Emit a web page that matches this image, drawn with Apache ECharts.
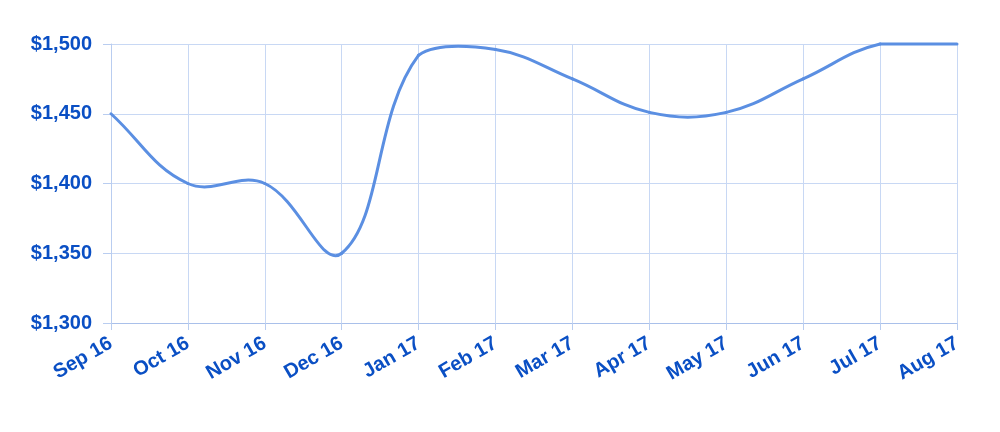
<!DOCTYPE html>
<html><head><meta charset="utf-8">
<script src="https://cdn.jsdelivr.net/npm/echarts@6/dist/echarts.min.js"></script>
<style>html,body{margin:0;padding:0;background:#fff}#c{width:1000px;height:432px}</style>
</head><body><div id="c"></div>
<script>
const categories = ['Sep 16','Oct 16','Nov 16','Dec 16','Jan 17','Feb 17','Mar 17','Apr 17','May 17','Jun 17','Jul 17','Aug 17'];
const values = [1450, 1400, 1400, 1350, 1492, 1496, 1475, 1451, 1451, 1475, 1500, 1500];
const yMin = 1300, yMax = 1500, yStep = 50;

const TENSION = 0.4;
const chart = echarts.init(document.getElementById('c'));
const labelColor = '#0a4fc4';
const gridColor = '#c8d8f4';
const fontFamily = 'Liberation Sans, Arial, sans-serif';

function controlPoints(pts, i, top, bottom) {
  const prev = pts[Math.max(0, i - 1)], cur = pts[i], next = pts[Math.min(pts.length - 1, i + 1)];
  const d01 = Math.hypot(cur[0] - prev[0], cur[1] - prev[1]);
  const d12 = Math.hypot(next[0] - cur[0], next[1] - cur[1]);
  let s01 = d01 / (d01 + d12), s12 = d12 / (d01 + d12);
  if (!isFinite(s01)) s01 = 0; if (!isFinite(s12)) s12 = 0;
  const fa = TENSION * s01, fb = TENSION * s12;
  const clampY = y => Math.min(bottom, Math.max(top, y));
  return {
    prev: [cur[0] - fa * (next[0] - prev[0]), clampY(cur[1] - fa * (next[1] - prev[1]))],
    next: [cur[0] + fb * (next[0] - prev[0]), clampY(cur[1] + fb * (next[1] - prev[1]))]
  };
}

chart.setOption({
  animation: false,
  grid: { left: 111, right: 43, top: 44, bottom: 109 },
  xAxis: {
    type: 'category', data: categories, boundaryGap: false,
    axisLine: { lineStyle: { color: '#a9c0ea', width: 1 } },
    axisTick: { show: true, length: 7, lineStyle: { color: '#b9cdf0' } },
    splitLine: { show: true, lineStyle: { color: gridColor, width: 1 } },
    axisLabel: { rotate: 30, color: labelColor, fontFamily, fontWeight: 'bold', fontSize: 20, margin: 19, interval: 0 }
  },
  yAxis: {
    type: 'value', min: yMin, max: yMax, interval: yStep,
    axisLine: { show: true, lineStyle: { color: '#b9cdf0' } },
    axisTick: { show: true, length: 8, lineStyle: { color: '#b9cdf0' } },
    splitLine: { lineStyle: { color: gridColor, width: 1 } },
    axisLabel: { color: labelColor, fontFamily, fontWeight: 'bold', fontSize: 20, margin: 19,
      formatter: v => '$' + v.toLocaleString('en-US') }
  },
  series: [{
    type: 'custom', coordinateSystem: 'cartesian2d',
    data: values.map((v, i) => [i, v]),
    encode: { x: 0, y: 1 },
    renderItem: function (params, api) {
      const i = params.dataIndex;
      if (i >= values.length - 1) return null;
      const pts = values.map((v, k) => api.coord([k, v]));
      const top = api.coord([0, yMax])[1], bottom = api.coord([0, yMin])[1];
      const a = controlPoints(pts, i, top, bottom), b = controlPoints(pts, i + 1, top, bottom);
      return {
        type: 'bezierCurve',
        shape: { x1: pts[i][0], y1: pts[i][1], cpx1: a.next[0], cpy1: a.next[1],
                 cpx2: b.prev[0], cpy2: b.prev[1], x2: pts[i + 1][0], y2: pts[i + 1][1] },
        style: { stroke: '#5b8fe2', fill: null, lineWidth: 3, lineCap: 'round' }
      };
    }
  }]
});
</script></body></html>
